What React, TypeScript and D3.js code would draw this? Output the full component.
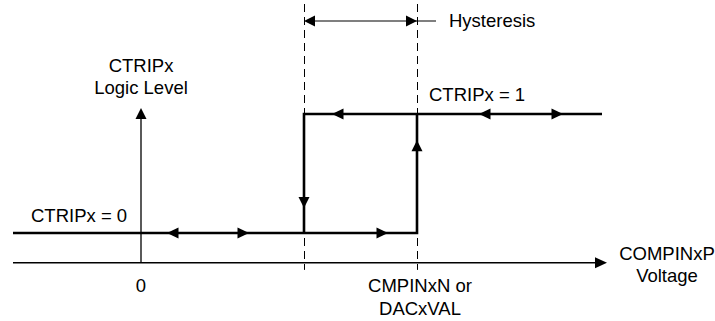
import React, { useRef, useEffect } from 'react';
import * as d3 from 'd3';

// voltage axis (arbitrary units) and logic levels
const axisRange = [-12.8, 46.6];
const thresholds = [16.3, 27.6]; // falling / rising trip points
const lowSpan = [-12.8, 27.6];
const highSpan = [16.3, 46.1];

const hArrows = [
  { v: 2.6, level: 0, dir: -1 },
  { v: 10.8, level: 0, dir: 1 },
  { v: 24.7, level: 0, dir: 1 },
  { v: 19.1, level: 1, dir: -1 },
  { v: 33.8, level: 1, dir: -1 },
  { v: 42.2, level: 1, dir: 1 }
];
const vArrows = [
  { v: 16.3, level: 0.21, dir: 1 },
  { v: 27.6, level: 0.78, dir: -1 }
];

const labels = [
  { text: 'CTRIPx', v: 0, level: 1.353, anchor: 'middle' },
  { text: 'Logic Level', v: 0, level: 1.168, anchor: 'middle' },
  { text: 'CTRIPx = 1', v: 28.8, level: 1.109, anchor: 'start' },
  { text: 'CTRIPx = 0', v: -11.0, level: 0.092, anchor: 'start' },
  { text: '0', v: 0, level: -0.496, anchor: 'middle' },
  { text: 'CMPINxN or', v: 27.9, level: -0.496, anchor: 'middle' },
  { text: 'DACxVAL', v: 27.9, level: -0.689, anchor: 'middle' },
  { text: 'COMPINxP', v: 52.6, level: -0.227, anchor: 'middle' },
  { text: 'Voltage', v: 52.6, level: -0.412, anchor: 'middle' },
  { text: 'Hysteresis', v: 30.8, level: 1.731, anchor: 'start' }
];

export default function App() {
  const svgRef = useRef<SVGSVGElement>(null);
  const width = 715;
  const height = 321;

  useEffect(() => {
    const svg = d3.select(svgRef.current);
    svg.selectAll('*').remove();

    const x = d3.scaleLinear().domain(axisRange).range([13, 607]);
    const y = d3.scaleLinear().domain([0, 1]).range([233, 114]);
    const font = '"Liberation Sans", Arial, sans-serif';

    const tri = (tx: number, ty: number, dx: number, dy: number, len = 11, hw = 5.5) => {
      // tip at (tx,ty) pointing in (dx,dy)
      const bx = tx - dx * len, by = ty - dy * len;
      const px = -dy * hw, py = dx * hw;
      return `M${tx},${ty}L${bx + px},${by + py}L${bx - px},${by - py}Z`;
    };

    // dashed threshold guides
    svg.selectAll('.guide')
      .data(thresholds)
      .join('line')
      .attr('x1', d => x(d) + 0.5).attr('x2', d => x(d) + 0.5)
      .attr('y1', 4).attr('y2', y(-0.31))
      .attr('stroke', '#000').attr('stroke-width', 1)
      .attr('stroke-dasharray', '8 5');

    // axes
    const axisY = y(-0.25);
    svg.append('line')
      .attr('x1', x(axisRange[0])).attr('x2', x(axisRange[1]) - 8)
      .attr('y1', axisY).attr('y2', axisY)
      .attr('stroke', '#000').attr('stroke-width', 1.3);
    svg.append('path').attr('d', tri(x(axisRange[1]), axisY, 1, 0, 12, 5.5)).attr('fill', '#000');

    svg.append('line')
      .attr('x1', x(0)).attr('x2', x(0))
      .attr('y1', axisY).attr('y2', y(1.05) + 8)
      .attr('stroke', '#000').attr('stroke-width', 1.3);
    svg.append('path').attr('d', tri(x(0), y(1.05), 0, -1, 11, 5.5)).attr('fill', '#000');

    // hysteresis loop
    const loop = d3.line<[number, number]>().x(d => x(d[0])).y(d => y(d[1]));
    svg.append('path')
      .attr('d', loop([[lowSpan[0], 0], [lowSpan[1], 0], [lowSpan[1], 1]]))
      .attr('fill', 'none').attr('stroke', '#000').attr('stroke-width', 2.6);
    svg.append('path')
      .attr('d', loop([[highSpan[1], 1], [highSpan[0], 1], [highSpan[0], 0]]))
      .attr('fill', 'none').attr('stroke', '#000').attr('stroke-width', 2.6);

    svg.selectAll('.harrow')
      .data(hArrows)
      .join('path')
      .attr('d', d => tri(x(d.v), y(d.level), d.dir, 0, 11.5, 5.5))
      .attr('fill', '#000');
    svg.selectAll('.varrow')
      .data(vArrows)
      .join('path')
      .attr('d', d => tri(x(d.v), y(d.level), 0, d.dir, 11, 5.5))
      .attr('fill', '#000');

    // hysteresis dimension
    const hy = 21;
    svg.append('line')
      .attr('x1', x(thresholds[0]) + 6).attr('x2', x(thresholds[1]) + 19)
      .attr('y1', hy).attr('y2', hy)
      .attr('stroke', '#000').attr('stroke-width', 1.2);
    svg.append('path').attr('d', tri(x(thresholds[0]), hy, -1, 0, 11, 5.5)).attr('fill', '#000');
    svg.append('path').attr('d', tri(x(thresholds[1]), hy, 1, 0, 11, 5.5)).attr('fill', '#000');

    svg.selectAll('.label')
      .data(labels)
      .join('text')
      .attr('x', d => x(d.v))
      .attr('y', d => y(d.level))
      .attr('text-anchor', d => d.anchor)
      .attr('font-family', font)
      .attr('font-size', 18.5)
      .attr('fill', '#000')
      .text(d => d.text);
  }, []);

  return (
    <svg ref={svgRef} width={width} height={height}
      style={{ position: 'absolute', left: 0, top: 0, background: '#fff' }} />
  );
}
